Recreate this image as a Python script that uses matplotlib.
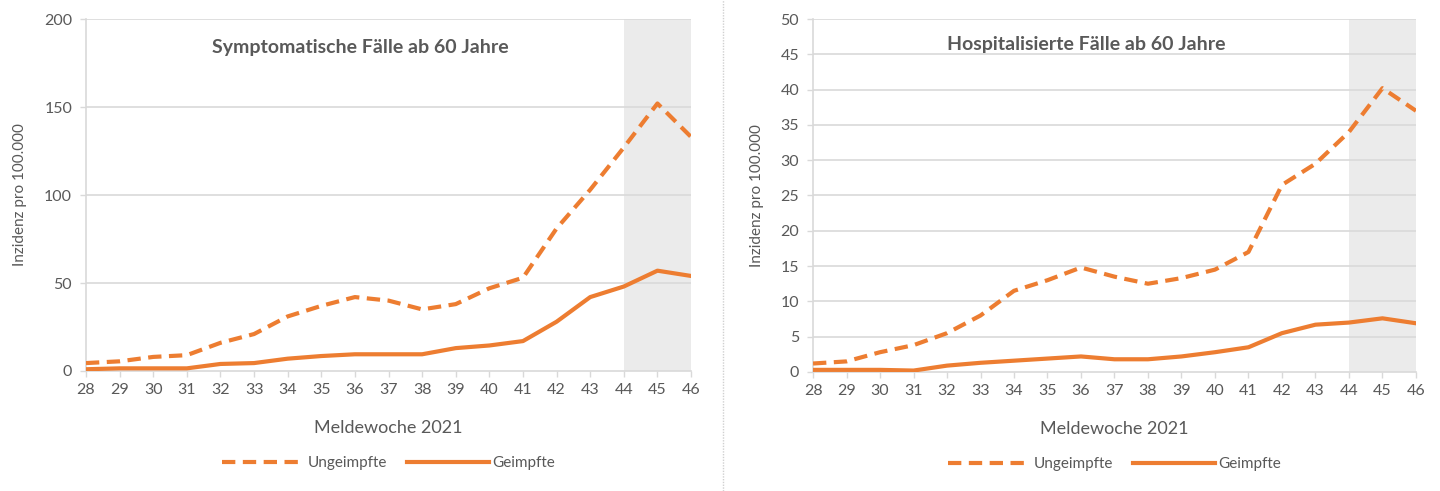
import matplotlib
matplotlib.use("Agg")
import matplotlib.pyplot as plt
from matplotlib.lines import Line2D

weeks = list(range(28, 47))
sym_unvacc = [4.5, 5.5, 8, 9, 16, 21, 31, 37, 42, 40, 35, 38, 47, 53, 81, 103, 127, 152, 133]
sym_vacc = [1, 1.5, 1.5, 1.5, 4, 4.5, 7, 8.5, 9.5, 9.5, 9.5, 13, 14.5, 17, 28, 42, 48, 57, 54]
hosp_unvacc = [1.2, 1.5, 2.8, 3.8, 5.5, 8, 11.5, 13, 14.8, 13.5, 12.5, 13.3, 14.5, 17, 26.5, 29.5, 34, 40.2, 37]
hosp_vacc = [0.3, 0.3, 0.3, 0.2, 0.9, 1.3, 1.6, 1.9, 2.2, 1.8, 1.8, 2.2, 2.8, 3.5, 5.5, 6.7, 7.0, 7.6, 6.9]

titles = ["Symptomatische Fälle ab 60 Jahre", "Hospitalisierte Fälle ab 60 Jahre"]
ylabel = "Inzidenz pro 100.000"
xlabel = "Meldewoche 2021"
labels = ["Ungeimpfte", "Geimpfte"]
shade_start = 44

ORANGE = "#ED7D31"
TXT = "#595959"
GRID = "#D9D9D9"

plt.rcParams['font.family'] = ['Lato', 'DejaVu Sans']

fig = plt.figure(figsize=(14.4, 4.91), dpi=100)
ax1 = fig.add_axes([0.0597, 0.2444, 0.4202, 0.7169])
ax2 = fig.add_axes([0.5646, 0.2424, 0.4187, 0.7189])

configs = [
    (ax1, sym_unvacc, sym_vacc, 200, 50, titles[0], 0.453, 0.92),
    (ax2, hosp_unvacc, hosp_vacc, 50, 5, titles[1], 0.453, 0.928),
]

dash = (0, (3.2, 1.8))
for ax, un, va, ymax, step, title, tx, ty in configs:
    ax.axvspan(shade_start, weeks[-1], color="#EBEBEB", zorder=0, lw=0)
    for y in range(step, ymax + 1, step):
        ax.axhline(y, color=GRID, lw=1.2, zorder=1)
    ax.plot(weeks, un, color=ORANGE, lw=3, ls=dash, zorder=3)
    ax.plot(weeks, va, color=ORANGE, lw=3, zorder=3)
    ax.set_xlim(weeks[0], weeks[-1])
    ax.set_ylim(0, ymax)
    ax.set_xticks(weeks)
    ax.set_yticks(range(0, ymax + 1, step))
    ax.tick_params(axis='both', colors=GRID, labelcolor=TXT, labelsize=11.5, length=4, width=1)
    ax.tick_params(axis='x', pad=5)
    ax.tick_params(axis='y', pad=6)
    for s in ["top", "right"]:
        ax.spines[s].set_visible(False)
    for s in ["left", "bottom"]:
        ax.spines[s].set_color(GRID)
        ax.spines[s].set_linewidth(1.2)
    ax.set_ylabel(ylabel, color=TXT, fontsize=11, labelpad=12)
    ax.set_xlabel(xlabel, color=TXT, fontsize=13, labelpad=16)
    ax.text(tx, ty, title, transform=ax.transAxes, ha='center', va='center',
            fontsize=14, fontweight='bold', color=TXT)
    handles = [Line2D([], [], color=ORANGE, lw=3, ls=dash),
               Line2D([], [], color=ORANGE, lw=3)]
    ax.legend(handles, labels, loc='center', bbox_to_anchor=(0.5, -0.262), ncol=2,
              frameon=False, fontsize=11, labelcolor=TXT, handlelength=5.4,
              columnspacing=1.3, handletextpad=0.2)

fig.add_artist(Line2D([0.502, 0.502], [0.0, 1.0], transform=fig.transFigure,
                      color="#D0D0D0", lw=1, ls=(0, (1, 1))))

fig.savefig("out.png", dpi=100, facecolor="white")
